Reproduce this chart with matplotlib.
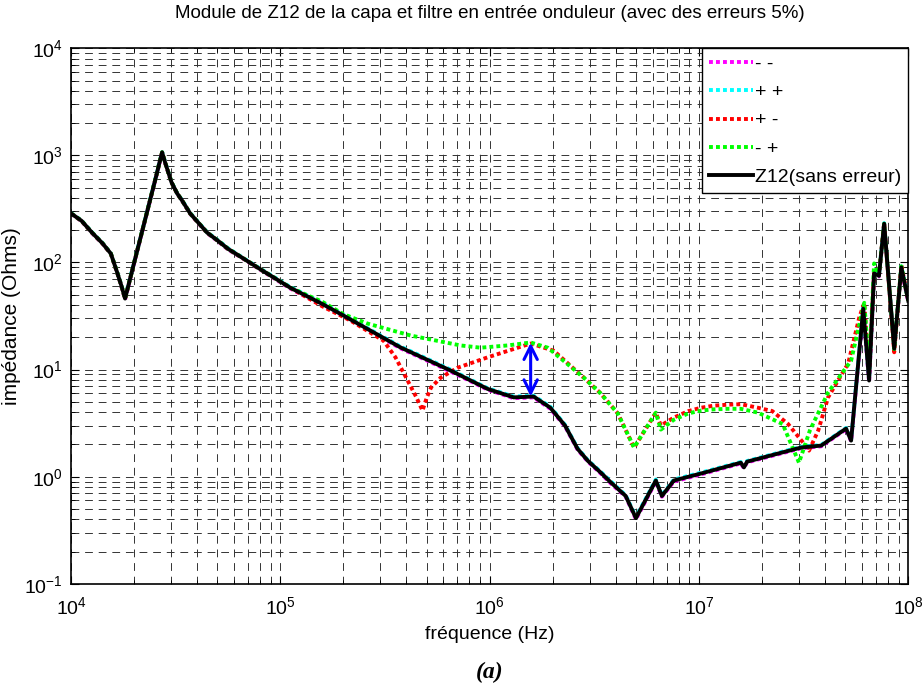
import numpy as np
import matplotlib.pyplot as plt
from matplotlib.ticker import LogLocator, NullFormatter

plt.rcParams['font.family'] = ['Liberation Sans', 'DejaVu Sans']
plt.rcParams['axes.unicode_minus'] = False

# Z12 sans erreur : log10(f) et |Z| en Ohms
lgf_ref = [4.0, 4.05, 4.1, 4.15, 4.19, 4.22, 4.24, 4.258, 4.3, 4.38, 4.41, 4.42,
           4.435, 4.45, 4.48, 4.507, 4.53, 4.569, 4.6, 4.65, 4.699, 4.75, 4.82,
           4.89, 5.048, 5.2, 5.301, 5.574, 5.813, 5.99, 6.115, 6.21, 6.29, 6.36,
           6.42, 6.47, 6.531, 6.58, 6.65, 6.699, 6.794, 6.823, 6.88, 7.01, 7.2,
           7.215, 7.23, 7.488, 7.584, 7.703, 7.727, 7.785, 7.813, 7.837, 7.86,
           7.885, 7.933, 7.967, 8.0]
z_ref = [287, 245, 190, 151, 121, 81, 61, 46, 97, 400, 680, 820,
         1067, 850, 560, 441, 380, 287, 245, 190, 161, 134, 110,
         90, 58, 41, 32, 16.1, 9.8, 6.6, 5.5, 5.6, 4.4, 3.0,
         1.82, 1.4, 1.09, 0.88, 0.66, 0.41, 0.92, 0.66, 0.92, 1.07, 1.35,
         1.22, 1.38, 1.87, 1.95, 2.81, 2.17, 37, 7.9, 79, 75,
         230, 15.7, 90, 44]

# "- -" et "+ +" se superposent a la courbe sans erreur
lgf_mm = lgf_ref
z_mm = [285, 243, 188, 150, 120, 80, 60, 45, 96, 395, 672, 810,
        1050, 840, 555, 438, 377, 284, 242, 188, 159, 132, 109,
        89, 57, 40, 31.5, 15.8, 9.6, 6.5, 5.4, 5.5, 4.3, 2.95,
        1.79, 1.38, 1.07, 0.86, 0.65, 0.40, 0.90, 0.65, 0.90, 1.05, 1.33,
        1.20, 1.36, 1.84, 1.92, 2.77, 2.14, 36, 7.6, 78, 74,
        226, 15.3, 88, 43]
lgf_pp = lgf_ref
z_pp = [289, 247, 192, 153, 122, 82, 62, 47, 98, 405, 688, 830,
        1075, 860, 565, 444, 383, 290, 248, 192, 163, 136, 111,
        91, 59, 42, 32.5, 16.4, 10.0, 6.7, 5.6, 5.7, 4.5, 3.05,
        1.85, 1.42, 1.11, 0.90, 0.67, 0.42, 0.94, 0.67, 0.94, 1.09, 1.37,
        1.24, 1.40, 1.90, 1.98, 2.85, 2.20, 38, 8.1, 80, 76,
        233, 16.0, 92, 45]

# "+ -"
lgf_pm = [4.0, 4.05, 4.1, 4.15, 4.19, 4.22, 4.24, 4.258, 4.3, 4.38, 4.41, 4.42,
          4.435, 4.45, 4.48, 4.507, 4.53, 4.569, 4.6, 4.65, 4.699, 4.75, 4.82,
          4.89, 5.048, 5.2, 5.335, 5.493, 5.55, 5.608, 5.65, 5.679, 5.70, 5.72,
          5.766, 5.847, 5.99, 6.196, 6.306, 6.45, 6.53, 6.612, 6.69, 6.794,
          6.818, 6.88, 6.95, 7.01, 7.07, 7.139, 7.2, 7.282, 7.35, 7.426, 7.502,
          7.526, 7.57, 7.617, 7.713, 7.766, 7.79, 7.813, 7.837, 7.86, 7.885,
          7.933, 7.967, 8.0]
z_pm = [287, 245, 190, 151, 121, 81, 61, 46, 97, 400, 680, 820,
        1067, 850, 560, 441, 380, 287, 245, 190, 161, 134, 110,
        90, 58, 39, 28.7, 18.6, 13, 7.9, 5.5, 4.14, 5.5, 6.8,
        8.4, 10.4, 13, 17.5, 15, 8.4, 6.0, 3.9, 1.87, 3.96,
        3.0, 3.56, 4.1, 4.4, 4.6, 4.7, 4.75, 4.4, 4.1, 3.1, 2.03,
        1.75, 2.7, 5.5, 11.4, 30.6, 42, 9.0, 80, 76, 235,
        14.5, 95, 44]

# "- +"
lgf_mp = [4.0, 4.05, 4.1, 4.15, 4.19, 4.22, 4.24, 4.258, 4.3, 4.38, 4.41, 4.42,
          4.435, 4.45, 4.48, 4.507, 4.53, 4.569, 4.6, 4.65, 4.699, 4.75, 4.82,
          4.89, 5.048, 5.2, 5.30, 5.416, 5.622, 5.861, 5.957, 6.086, 6.196,
          6.278, 6.45, 6.53, 6.612, 6.69, 6.794, 6.818, 6.88, 6.95, 7.01, 7.07,
          7.139, 7.2, 7.282, 7.40, 7.478, 7.53, 7.617, 7.727, 7.79, 7.813,
          7.837, 7.86, 7.885, 7.933, 7.967, 8.0]
z_mp = [287, 245, 190, 151, 121, 81, 61, 46, 97, 400, 680, 820,
        1067, 850, 560, 441, 380, 287, 245, 190, 161, 134, 110,
        90, 58, 43, 33, 26.9, 20.8, 16.8, 16, 16.8, 17.9,
        16, 8.4, 6.0, 3.9, 1.87, 3.96, 2.75, 3.4, 3.9, 4.14, 4.25,
        4.3, 4.3, 3.96, 3.1, 1.35, 2.7, 6.1, 12.1, 42, 10,
        98, 76, 230, 15.5, 92, 44]

# double fleche bleue (ecart entre les courbes)
arrow_f = 1.57e6
arrow_z_lo = 5.6
arrow_z_hi = 17.8

fig = plt.figure(figsize=(9.23, 6.90), dpi=100)
ax = fig.add_axes([0.077, 0.154, 0.907, 0.776])

dot = (0, (1, 0.8))
ax.plot(10 ** np.array(lgf_mm), z_mm, color='#ff00ff', lw=2.8, ls=dot, label='- -')
ax.plot(10 ** np.array(lgf_pp), z_pp, color='#00ffff', lw=2.8, ls=dot, label='+ +')
ax.plot(10 ** np.array(lgf_pm), z_pm, color='#ff0000', lw=2.8, ls=dot, label='+ -')
ax.plot(10 ** np.array(lgf_mp), z_mp, color='#00ff00', lw=2.8, ls=dot, label='- +')
ax.plot(10 ** np.array(lgf_ref), z_ref, color='k', lw=2.8, label='Z12(sans erreur)')

ax.annotate('', xy=(arrow_f, arrow_z_hi), xytext=(arrow_f, arrow_z_lo),
            arrowprops=dict(arrowstyle='<->', color='#0000ff', lw=2.2,
                            mutation_scale=24, shrinkA=0, shrinkB=0))

ax.set_xscale('log')
ax.set_yscale('log')
ax.set_xlim(1e4, 1e8)
ax.set_ylim(1e-1, 1e4)
ax.xaxis.set_minor_locator(LogLocator(base=10, subs=np.arange(2, 10), numticks=20))
ax.yaxis.set_minor_locator(LogLocator(base=10, subs=np.arange(2, 10), numticks=20))
ax.xaxis.set_minor_formatter(NullFormatter())
ax.yaxis.set_minor_formatter(NullFormatter())

ax.grid(True, which='both', color='0.2', lw=0.7, ls=(0, (8, 6)))
ax.tick_params(which='both', direction='in', top=True, right=True, labelsize=14)
ax.tick_params(axis='x', which='major', pad=9)
ax.tick_params(axis='y', which='major', pad=6)
ax.tick_params(which='major', length=6)
ax.tick_params(which='minor', length=3)
for s in ax.spines.values():
    s.set_linewidth(1.2)

ax.set_title('Module de Z12 de la capa et filtre en entrée onduleur (avec des erreurs 5%)',
             fontsize=13.5, pad=22)
ax.set_xlabel('fréquence (Hz)', fontsize=14, labelpad=6)
ax.set_ylabel('impédance (Ohms)', fontsize=15, labelpad=2)

leg = ax.legend(loc='upper right', fontsize=14, handlelength=2.3, handletextpad=0.1,
                labelspacing=0.55, borderaxespad=0, fancybox=False, framealpha=1,
                borderpad=0.35)
leg.get_frame().set_edgecolor('k')
leg.get_frame().set_linewidth(1.0)

fig.text(0.531, 0.026, '(a)', fontsize=17, fontweight='bold', fontstyle='italic',
         family='Liberation Serif', ha='center', va='center')

fig.savefig('out.png', dpi=100)
